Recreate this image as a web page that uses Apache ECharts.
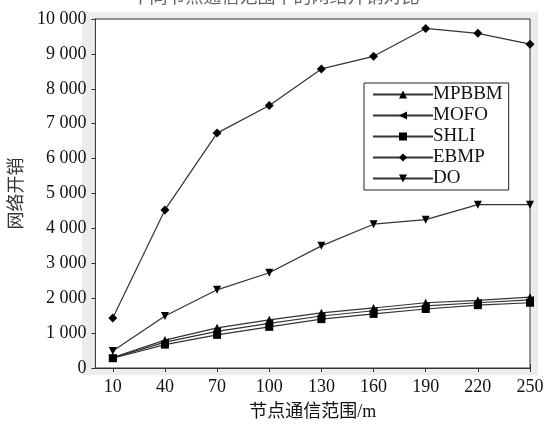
<!DOCTYPE html>
<html>
<head>
<meta charset="utf-8">
<script src="https://cdn.jsdelivr.net/npm/echarts@6/dist/echarts.min.js"></script>
<style>html,body{margin:0;padding:0;background:#fff;}#c{width:551px;height:428px;}</style>
</head>
<body>
<div id="c"></div>
<script>
const ranges = [10, 40, 70, 100, 130, 160, 190, 220, 250];
const seriesNames = ['MPBBM', 'MOFO', 'SHLI', 'EBMP', 'DO'];
const MPBBM = [300, 800, 1150, 1380, 1580, 1720, 1870, 1940, 2030];
const MOFO  = [290, 740, 1050, 1280, 1490, 1640, 1780, 1870, 1950];
const SHLI  = [280, 670, 950, 1180, 1400, 1550, 1690, 1800, 1870];
const EBMP  = [1430, 4530, 6730, 7520, 8570, 8930, 9730, 9590, 9280];
const DO    = [490, 1490, 2240, 2730, 3500, 4120, 4250, 4680, 4680];
const yTicks = [0, 1000, 2000, 3000, 4000, 5000, 6000, 7000, 8000, 9000, 10000];
const xAxisName = '节点通信范围/m';
const yAxisName = '网络开销';
const titleText = '不同节点通信范围下的网络开销对比';

const values = [MPBBM, MOFO, SHLI, EBMP, DO];
const symbols = ['triangle', 'triangle', 'rect', 'diamond', 'triangle'];
const rotates = [0, 90, 0, 0, 180];
const sizes = [8, 8, 8, 9, 8];

const serif = '"Liberation Serif", "Noto Sans CJK SC", serif';
const fmt = v => {
  const s = String(v);
  return s.length > 3 ? s.slice(0, s.length - 3) + ' ' + s.slice(-3) : s;
};

const chart = echarts.init(document.getElementById('c'), null, {renderer: 'canvas'});
chart.setOption({
  animation: false,
  backgroundColor: '#fff',
  title: {
    text: titleText, left: 'center', top: -16,
    textStyle: {fontFamily: serif, fontSize: 18, fontWeight: 'normal', color: '#666'}
  },
  grid: [
    {left: 82, right: 13, top: 12, bottom: 53, show: true, backgroundColor: '#ececec', borderWidth: 0, z: 0},
    {left: 89, right: 21, top: 19, bottom: 60, show: true, backgroundColor: '#fff', borderColor: '#333', borderWidth: 1, z: 1}
  ],
  legend: {
    orient: 'vertical', left: 364, top: 83,
    data: seriesNames,
    itemWidth: 60, itemHeight: 10, itemGap: 2,
    padding: [2, 6, 2, 8],
    borderColor: '#222', borderWidth: 1, backgroundColor: '#fff',
    textStyle: {fontFamily: serif, fontSize: 19, lineHeight: 19, color: '#111', padding: [0, 0, 0, -5]},
    symbolRotate: 'inherit'
  },
  xAxis: [
    {gridIndex: 0, type: 'value', show: false, min: 0, max: 1},
    {gridIndex: 1, type: 'value', min: 0, max: 250, position: 'bottom',
     name: xAxisName, nameLocation: 'middle', nameGap: 35,
     nameTextStyle: {fontFamily: serif, fontSize: 18, color: '#111'},
     axisLine: {show: true, lineStyle: {color: '#333'}},
     axisTick: {show: true, inside: true, length: 4, customValues: ranges, lineStyle: {color: '#333'}},
     axisLabel: {customValues: ranges, fontFamily: serif, fontSize: 18, color: '#111', margin: 10},
     splitLine: {show: false}},
    {gridIndex: 1, type: 'value', min: 0, max: 250, position: 'top',
     axisLine: {show: true, lineStyle: {color: '#333'}},
     axisTick: {show: true, inside: true, length: 4, customValues: ranges, lineStyle: {color: '#333'}},
     axisLabel: {show: false}, splitLine: {show: false}}
  ],
  yAxis: [
    {gridIndex: 0, type: 'value', show: false, min: 0, max: 1},
    {gridIndex: 1, type: 'value', min: 0, max: 10000, interval: 1000, position: 'left',
     name: yAxisName, nameLocation: 'middle', nameGap: 66, nameRotate: 90,
     nameTextStyle: {fontFamily: serif, fontSize: 18, color: '#333'},
     axisLine: {show: true, lineStyle: {color: '#333'}},
     axisTick: {show: true, inside: true, length: 4, lineStyle: {color: '#333'}},
     axisLabel: {fontFamily: serif, fontSize: 18, color: '#111', margin: 9, formatter: fmt},
     splitLine: {show: false}},
    {gridIndex: 1, type: 'value', min: 0, max: 10000, interval: 1000, position: 'right',
     axisLine: {show: true, lineStyle: {color: '#333'}},
     axisTick: {show: true, inside: true, length: 4, lineStyle: {color: '#333'}},
     axisLabel: {show: false}, splitLine: {show: false}}
  ],
  series: seriesNames.map((name, i) => ({
    name: name,
    type: 'line',
    xAxisIndex: 1, yAxisIndex: 1,
    data: ranges.map((r, j) => [r, values[i][j]]),
    symbol: symbols[i], symbolSize: sizes[i], symbolRotate: rotates[i],
    showAllSymbol: true,
    lineStyle: {color: '#333', width: 1.2},
    itemStyle: {color: '#000'},
    z: 5
  }))
});
</script>
</body>
</html>
